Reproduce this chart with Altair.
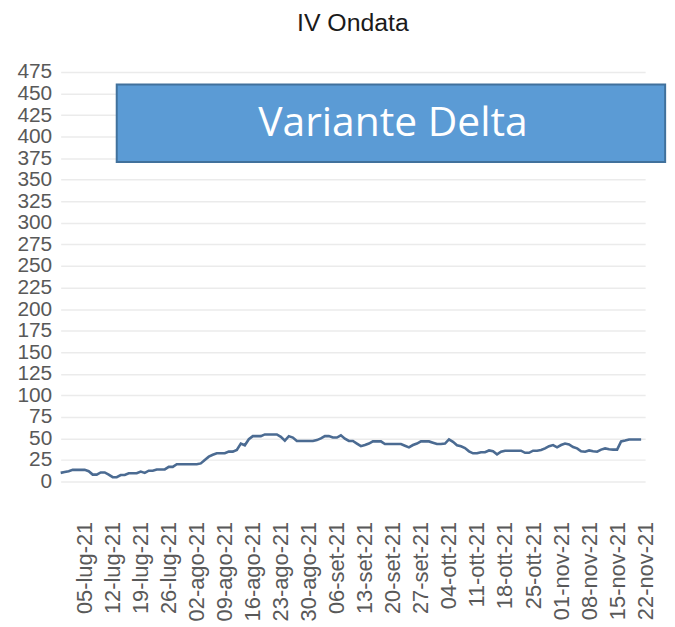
import altair as alt
import pandas as pd

# daily values, 29-giu-21 .. 21-nov-21
start_date = "2021-06-29"
values = [
    10, 11, 12, 13.5, 13.5, 13.5, 13.5, 12, 8, 8,
    10.5, 10.5, 8, 5, 5, 7.5, 7.5, 9.5, 9.5, 9.5,
    11.5, 10, 12.5, 12.5, 14, 14, 14, 17, 17, 20,
    20, 20, 20, 20, 20, 21, 25, 28.8, 31, 32.7,
    32.7, 32.7, 34.6, 34.6, 36.6, 44, 42, 49, 52.6, 52.6,
    52.6, 54.6, 54.6, 54.6, 54.6, 51.8, 47.3, 52.6, 51, 47,
    47, 47, 47, 47, 48, 50, 52.6, 52.6, 51, 51,
    53.5, 49.7, 47, 47, 44, 41, 42.3, 44, 46.5, 46.5,
    46.5, 43.4, 43.4, 43.4, 43.4, 43.4, 41.5, 39.6, 42.3, 44,
    46.5, 46.5, 46.5, 45, 43.5, 43.5, 44, 48.8, 46, 42,
    40.8, 38.8, 35, 32.7, 32.7, 34, 34, 36, 35, 31.5,
    34.6, 35.7, 35.7, 35.7, 35.7, 35.7, 33.3, 33.3, 35.7, 35.7,
    36.5, 38.4, 41, 42.3, 39.6, 42.3, 44, 43, 40, 38.4,
    35, 34.6, 36, 35, 34.6, 37, 38.4, 37.5, 37, 37,
    46.5, 47.5, 48.8, 48.8, 48.8, 48.8,
]
dates = pd.date_range(start_date, periods=len(values), freq="D").strftime("%Y-%m-%d").tolist()

x_tick_dates = [
    "2021-07-05", "2021-07-12", "2021-07-19", "2021-07-26", "2021-08-02",
    "2021-08-09", "2021-08-16", "2021-08-23", "2021-08-30", "2021-09-06",
    "2021-09-13", "2021-09-20", "2021-09-27", "2021-10-04", "2021-10-11",
    "2021-10-18", "2021-10-25", "2021-11-01", "2021-11-08", "2021-11-15",
    "2021-11-22",
]
month_names = ["gen", "feb", "mar", "apr", "mag", "giu", "lug", "ago", "set", "ott", "nov", "dic"]
y_ticks = list(range(0, 500, 25))

ann_label = ["Variante Delta"]
ann_start = ["2021-07-13"]
ann_end = ["2021-11-27"]
ann_mid = ["2021-09-20"]
ann_low = [370.5]
ann_high = [460.5]
ann_center = [415]


def dt(s):
    y, m, d = (int(p) for p in s.split("-"))
    return alt.DateTime(year=y, month=m, date=d, utc=True)


df = pd.DataFrame({"date": dates, "value": values})
ann = pd.DataFrame({"label": ann_label, "x1": ann_start, "x2": ann_end, "xm": ann_mid,
                    "y1": ann_low, "y2": ann_high, "ym": ann_center})

months_js = "[" + ",".join("'%s'" % m for m in month_names) + "]"
label_expr = ("utcFormat(datum.value, '%d') + '-' + " + months_js +
              "[utcmonth(datum.value)] + '-' + utcFormat(datum.value, '%y')")

x_scale = alt.Scale(type="utc", domain=[dt(start_date), dt(x_tick_dates[-1])])
y_scale = alt.Scale(domain=[0, 475], nice=False)

x_axis = alt.Axis(
    values=[dt(s) for s in x_tick_dates], labelExpr=label_expr,
    labelAngle=270, labelAlign="right", labelBaseline="middle",
    labelPadding=40, labelFontSize=22, labelFont="Liberation Sans",
    labelColor="#595959", grid=False, ticks=False, domain=False,
    labelOverlap=False, labelFlush=False, labelBound=False, title=None)
y_axis = alt.Axis(
    values=y_ticks, labelFontSize=21, labelFont="Liberation Sans",
    labelColor="#595959", labelPadding=9, ticks=False, domain=False,
    gridColor="#ebebeb", gridWidth=1.5, labelOverlap=False, title=None)

line = alt.Chart(df).mark_line(color="#4B6B92", strokeWidth=2.6).encode(
    x=alt.X("date:T", scale=x_scale, axis=x_axis),
    y=alt.Y("value:Q", scale=y_scale, axis=y_axis),
)

rect = alt.Chart(ann).mark_rect(fill="#5B9BD5", stroke="#41719C", strokeWidth=2, clip=False).encode(
    x=alt.X("x1:T", axis=x_axis), x2="x2:T",
    y=alt.Y("y1:Q", axis=y_axis), y2="y2:Q",
)
text = alt.Chart(ann).mark_text(color="white", font="Open Sans", fontSize=41).encode(
    x=alt.X("xm:T", axis=x_axis), y=alt.Y("ym:Q", axis=y_axis), text="label:N",
)

chart = alt.layer(line, rect, text).properties(
    width=588, height=412,
    title=alt.TitleParams("IV Ondata", fontSize=25, font="Liberation Sans",
                          fontWeight="normal", color="#1a1a1a", anchor="middle", offset=25),
    padding={"left": 8, "top": 1.5, "right": 0, "bottom": 0},
).configure(background="white").configure_view(stroke="transparent", strokeWidth=0)

chart.save("out.html", embed_options={"renderer": "svg", "actions": False})
